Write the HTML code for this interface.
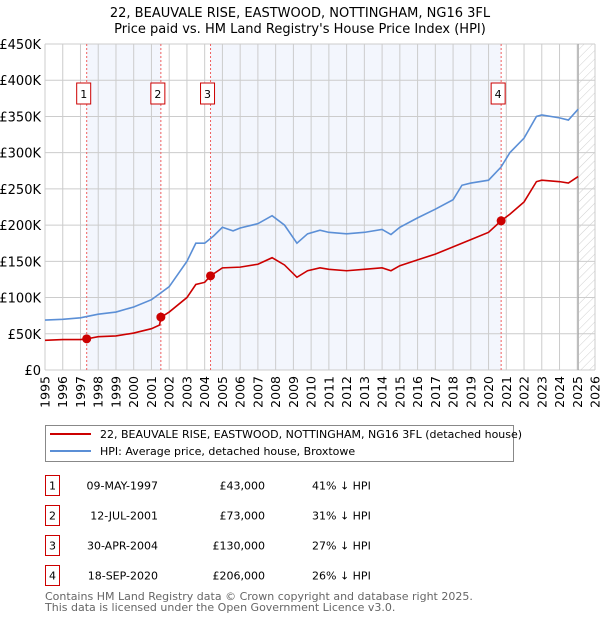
<!DOCTYPE html>
<html><head><meta charset="utf-8"><style>
body{margin:0;background:#fff;font-family:"DejaVu Sans","Liberation Sans",sans-serif;}
svg text{font-family:"DejaVu Sans","Liberation Sans",sans-serif;}
</style></head><body>
<svg id="c" width="600" height="620" xmlns="http://www.w3.org/2000/svg"></svg>
<script>
const hpiYears=[1995,1996,1997,1998,1999,2000,2001,2002,2003,2003.5,2004,2004.5,2005,2005.6,2006,2007,2007.8,2008.5,2009.2,2009.8,2010.5,2011,2012,2013,2014,2014.5,2015,2016,2017,2018,2018.5,2019,2020,2020.7,2021.2,2022,2022.7,2023,2024,2024.5,2025.05];
const hpiValues=[69,70,72,77,80,87,97,115,150,175,175,185,197,192,196,202,213,200,175,188,193,190,188,190,194,187,197,210,222,235,255,258,262,280,300,320,350,352,348,345,360];
const ppYears=[1995,1996,1997,1997.35,1998,1999,2000,2001,2001.45,2001.55,2002,2003,2003.5,2004,2004.33,2005,2006,2007,2007.8,2008.5,2009.2,2009.8,2010.5,2011,2012,2013,2014,2014.5,2015,2016,2017,2018,2019,2020,2020.71,2021.2,2022,2022.7,2023,2024,2024.5,2025.05];
const ppValues=[41,42,42,43,46,47,51,57,62,73,80,100,118,121,130,141,142,146,155,145,128,137,141,139,137,139,141,137,144,152,160,170,180,190,206,215,232,260,262,260,258,267];
const saleYears=[1997.35,2001.53,2004.33,2020.71];
const saleValues=[43,73,130,206];
const saleLabels=["1","2","3","4"];
const yTicks=[0,50,100,150,200,250,300,350,400,450];
const yTickLabels=["£0","£50K","£100K","£150K","£200K","£250K","£300K","£350K","£400K","£450K"];
const xYears=[1995,1996,1997,1998,1999,2000,2001,2002,2003,2004,2005,2006,2007,2008,2009,2010,2011,2012,2013,2014,2015,2016,2017,2018,2019,2020,2021,2022,2023,2024,2025,2026];

const L=45,R=595,T=44,B=370;
const X=y=>L+(y-1995)/31*(R-L);
const Y=v=>B-v/450*(B-T);
const svg=document.getElementById('c');
const NS='http://www.w3.org/2000/svg';
function el(tag,attrs,txt){const e=document.createElementNS(NS,tag);for(const k in attrs)e.setAttribute(k,attrs[k]);if(txt!==undefined)e.textContent=txt;svg.appendChild(e);return e;}

let t=el('text',{x:300,y:17,'text-anchor':'middle','font-size':'13',fill:'#000'},'22, BEAUVALE RISE, EASTWOOD, NOTTINGHAM, NG16 3FL');

t=el('text',{x:300,y:33,'text-anchor':'middle','font-size':'13',fill:'#000'},"Price paid vs. HM Land Registry's House Price Index (HPI)");


[[0,1],[2,3]].forEach(p=>{const r=el('rect',{x:X(saleYears[p[0]]),y:T,width:X(saleYears[p[1]])-X(saleYears[p[0]]),height:B-T,fill:'#f3f6fd'});
});
const defs=el('defs',{});
defs.innerHTML='<pattern id="h" width="6" height="6" patternUnits="userSpaceOnUse" patternTransform="rotate(45)"><line x1="0" y1="0" x2="0" y2="6" stroke="#d0d0d0" stroke-width="1"/></pattern>';
let hr=el('rect',{x:X(2025.1),y:T,width:R-X(2025.1),height:B-T,fill:'url(#h)'});


xYears.forEach(y=>{const g=el('line',{x1:X(y),x2:X(y),y1:T,y2:B,stroke:'#ccc','stroke-width':1});

const lb=el('text',{transform:`translate(${X(y)+4.5},${B+6}) rotate(-90)`,'text-anchor':'end','font-size':'12.5',fill:'#000'},y);
});
yTicks.forEach((v,i)=>{const g=el('line',{x1:L,x2:R,y1:Y(v),y2:Y(v),stroke:'#ccc','stroke-width':1});

const lb=el('text',{x:L-4,y:Y(v)+5,'text-anchor':'end','font-size':'13',fill:'#000'},yTickLabels[i]);
});
let vl=el('line',{x1:X(2025.05),x2:X(2025.05),y1:T,y2:B,stroke:'#999','stroke-width':1});


saleYears.forEach((y,i)=>{const d=el('line',{x1:X(y),x2:X(y),y1:T,y2:B,stroke:'#f06060','stroke-width':1,'stroke-dasharray':'2,2'});

const bx=el('rect',{x:X(y)-10,y:83,width:14,height:21,fill:'#fff',stroke:'#c00','stroke-width':1});

const tx=el('text',{x:X(y)-3,y:98,'text-anchor':'middle','font-size':'11',fill:'#000'},saleLabels[i]);
});

let p=el('polyline',{points:hpiYears.map((y,i)=>X(y)+','+Y(hpiValues[i])).join(' '),fill:'none',stroke:'#5b8fd6','stroke-width':1.6});

p=el('polyline',{points:ppYears.map((y,i)=>X(y)+','+Y(ppValues[i])).join(' '),fill:'none',stroke:'#cc0000','stroke-width':1.6});

saleYears.forEach((y,i)=>{const c=el('circle',{cx:X(y),cy:Y(saleValues[i]),r:4.5,fill:'#cc0000'});
});

let lg=el('rect',{x:45.5,y:425.5,width:468,height:36,fill:'#fff',stroke:'#888'});

let ll=el('line',{x1:50,x2:91,y1:434,y2:434,stroke:'#cc0000','stroke-width':2});
ll=el('line',{x1:50,x2:91,y1:451,y2:451,stroke:'#5b8fd6','stroke-width':2});
t=el('text',{x:100,y:438,'font-size':'11',fill:'#000'},'22, BEAUVALE RISE, EASTWOOD, NOTTINGHAM, NG16 3FL (detached house)');
t=el('text',{x:100,y:455,'font-size':'11',fill:'#000'},'HPI: Average price, detached house, Broxtowe');

const dates=['09-MAY-1997','12-JUL-2001','30-APR-2004','18-SEP-2020'];
const prices=['£43,000','£73,000','£130,000','£206,000'];
const pcts=['41% ↓ HPI','31% ↓ HPI','27% ↓ HPI','26% ↓ HPI'];
dates.forEach((d,i)=>{const y0=475.5+i*30;
const b=el('rect',{x:45.5,y:y0,width:14,height:20,fill:'#fff',stroke:'#c00'});
let e=el('text',{x:52.5,y:y0+14,'text-anchor':'middle','font-size':'11',fill:'#000'},saleLabels[i]);
e=el('text',{x:158,y:y0+14,'text-anchor':'end','font-size':'11',fill:'#000'},d);
e=el('text',{x:265,y:y0+14,'text-anchor':'end','font-size':'11',fill:'#000'},prices[i]);
e=el('text',{x:312,y:y0+14,'font-size':'11',fill:'#000'},pcts[i]);});
t=el('text',{x:45,y:600,'font-size':'11',fill:'#666'},'Contains HM Land Registry data © Crown copyright and database right 2025.');
t=el('text',{x:45,y:611,'font-size':'11',fill:'#666'},'This data is licensed under the Open Government Licence v3.0.');
</script>
</body></html>
